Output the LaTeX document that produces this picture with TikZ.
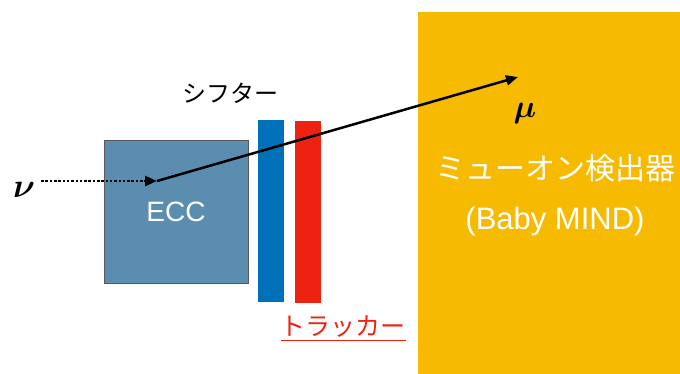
\RequirePackage{fix-cm}
\documentclass[tikz,border=0pt]{standalone}
\usepackage{amsmath,bm}
\usepackage{fontspec}
\setmainfont{Liberation Sans}
\newfontfamily\jpfont{Noto Sans CJK JP}
\usetikzlibrary{arrows.meta,positioning}

\definecolor{eccblue}{HTML}{5B8DB0}
\definecolor{shiftblue}{HTML}{0070B9}
\definecolor{trackred}{HTML}{EE2211}
\definecolor{mindyellow}{HTML}{F6BA00}

\begin{document}
\begin{tikzpicture}[
        x=1pt, y=-1pt,
        bar/.style={rectangle, minimum width=26pt, minimum height=182pt, inner sep=0pt},
        label/.style={font=\jpfont\fontsize{24}{28}\selectfont, inner sep=0pt},
        arrow/.style={-{Triangle[length=12pt,width=10pt]}, line width=2.5pt}
    ]
        \useasboundingbox (0,0) rectangle (680,374);

        % Detectors
        \node[rectangle, draw=gray!70!black, line width=0.4pt, fill=eccblue, minimum width=144pt, minimum height=143pt,
              text=white, font=\fontsize{28}{34}\selectfont] (ecc) at (176,211.5) {ECC};
        \node[bar, fill=shiftblue] (shifter) at (271,211) {};
        \node[bar, fill=trackred] (tracker) at (308,212) {};
        \node[rectangle, fill=mindyellow, minimum width=262pt, minimum height=362pt, inner sep=0pt] (mind) at (549,193) {};

        % Labels
        \node[label] (shiftlabel) at (230,93) {シフター};
        \node[label, text=trackred, font=\jpfont\fontsize{25}{28}\selectfont] (tracklabel) at (343,329) {\underline{トラッカー}};
        \node[align=center, text=white, font=\fontsize{31}{50}\selectfont, inner sep=0pt] (mindlabel) at (555,195)
            {{\jpfont\fontsize{30}{50}\selectfont ミューオン検出器}\\(Baby MIND)};

        % Particles
        \node[font=\fontsize{34}{34}\selectfont, inner sep=0pt] (nu) at (24,190) {$\bm{\nu}$};
        \node[font=\fontsize{32}{32}\selectfont, inner sep=0pt] (mu) at (525,114) {$\bm{\mu}$};
        \coordinate (vertex) at (157,181);
        \coordinate (muend) at (518,77);

        % Tracks
        \draw[arrow, dash pattern=on 2.5pt off 1.8pt, line cap=butt] (nu.east |- vertex) ++(6,0) coordinate (nustart) -- (vertex);
        \draw[arrow] (vertex) -- (muend);
    \end{tikzpicture}
\end{document}
